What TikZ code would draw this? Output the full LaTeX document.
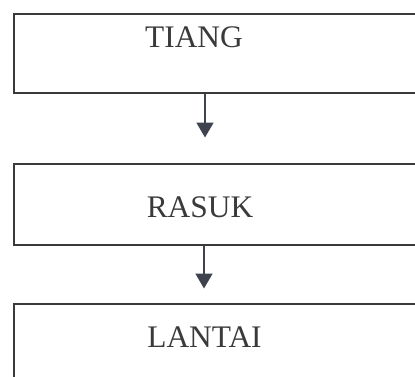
\documentclass[tikz,border=0pt]{standalone}
\usepackage{fontspec}
\setmainfont{Liberation Serif}
\usetikzlibrary{arrows.meta}
\definecolor{ink}{HTML}{3A3A3A}
\definecolor{arr}{HTML}{3E434E}
\begin{document}
\begin{tikzpicture}[x=1pt,y=-1pt,
  box/.style={draw=ink,line width=1.8pt,rectangle,inner sep=0pt,anchor=north west,minimum width=#1},
  lbl/.style={text=ink,font=\fontsize{31.4}{36}\selectfont,anchor=base,inner sep=0pt},
  flow/.style={draw=arr,line width=1.8pt,-{Triangle[length=15pt,width=17pt]}}]
\useasboundingbox (0,0) rectangle (415,376);
\node[box=420pt,minimum height=78.4pt] (b1) at (12.7,13.3) {};
\node[box=420pt,minimum height=80.7pt] (b2) at (12.7,163.3) {};
\node[box=420pt,minimum height=100pt] (b3) at (12.7,303.3) {};
\node[lbl] (t1) at (194,47) {TIANG};
\node[lbl] (t2) at (200,217) {RASUK};
\node[lbl] (t3) at (204.5,347) {LANTAI};
\coordinate (a1) at (205,91.7);
\coordinate (e1) at (205,137.5);
\coordinate (a2) at (204,244);
\coordinate (e2) at (204,288.5);
\draw[flow] (a1 |- b1.south) -- (e1);
\draw[flow] (a2 |- b2.south) -- (e2);
\end{tikzpicture}
\end{document}
